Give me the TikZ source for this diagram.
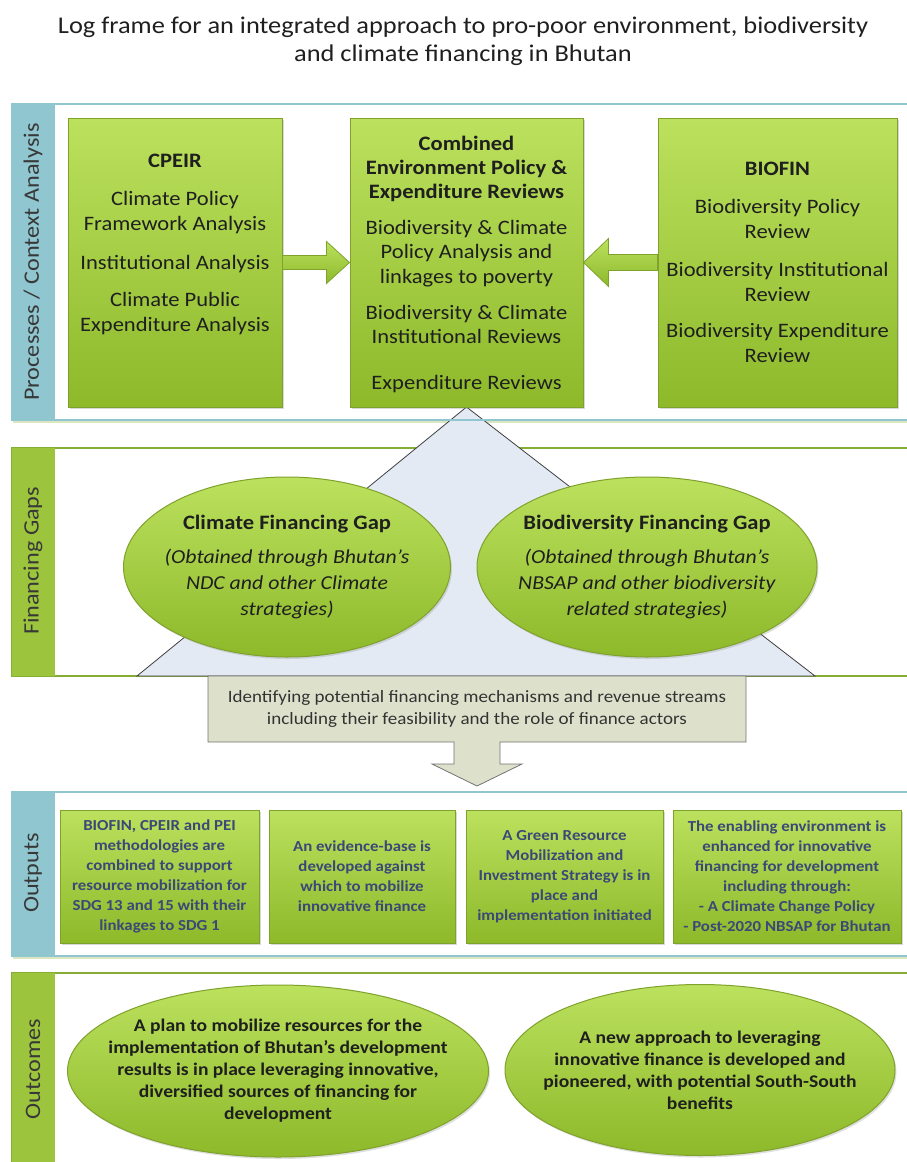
\documentclass[tikz,border=0pt]{standalone}
\usepackage{fontspec}
\setmainfont{Carlito}[FakeStretch=1.1]
\usetikzlibrary{calc,shapes.geometric,shadows}
\definecolor{boxtop}{HTML}{BCE15E}
\definecolor{boxbot}{HTML}{8DB92A}
\definecolor{boxline}{HTML}{7FA22C}
\definecolor{stripteal}{HTML}{90C6CF}
\definecolor{stripgreen}{HTML}{9CC43C}
\definecolor{bandgreen}{HTML}{86AE34}
\definecolor{trifill}{HTML}{E4EAF4}
\definecolor{mechfill}{HTML}{DDE1CB}
\definecolor{outtext}{HTML}{3B4878}
\begin{document}
\begin{tikzpicture}[x=1pt,y=-1pt,
	greenfill/.style={draw=boxline, line width=1pt, top color=boxtop, bottom color=boxbot},
	procbox/.style={greenfill, rectangle, inner sep=0pt, drop shadow={opacity=0.3, shadow xshift=2pt, shadow yshift=-2pt}},
	proctext/.style={align=center, inner sep=0pt, font=\fontsize{20.5}{25}\selectfont, text=black!88},
	outbox/.style={procbox, align=center, inner sep=2pt, font=\bfseries\fontsize{15.3}{20}\selectfont, text=outtext},
	gapell/.style={greenfill, ellipse, inner sep=0pt, drop shadow={opacity=0.25, shadow xshift=1.5pt, shadow yshift=-2pt}},
	gaptext/.style={align=center, inner sep=0pt, font=\fontsize{19.8}{26}\selectfont, text=black!88},
	outctext/.style={align=center, inner sep=0pt, font=\bfseries\fontsize{17.8}{22}\selectfont, text=black!88},
	bandlabel/.style={rotate=90, inner sep=0pt, font=\fontsize{22}{24}\selectfont, text=black!78},
	tealband/.style={draw=stripteal, line width=2pt, fill=white, drop shadow={opacity=0.3, shadow xshift=1pt, shadow yshift=-2.5pt, fill=bandgreen}},
	greenband/.style={draw=bandgreen, line width=1.5pt, fill=white},
	blockarrow/.style={greenfill, line width=0.8pt}
	]
	\useasboundingbox (0,0) rectangle (907,1162);
	\clip (0,0) rectangle (907,1162);

	\node [align=center, font=\fontsize{24}{28}\selectfont, text=black!88] (title) at (463,41)
		{Log frame for an integrated approach to pro-poor environment, biodiversity\\and climate financing in Bhutan};

	% bands with their side labels
	\draw [tealband] (12,104) rectangle (930,420);
	\fill [stripteal] (12,104) rectangle (55,420);
	\node [bandlabel] (lblproc) at (33,262) {Processes / Context Analysis};

	\draw [greenband] (12,448) rectangle (930,676);
	\fill [stripgreen] (12,448) rectangle (55,676);
	\node [bandlabel] (lblgaps) at (33,561) {Financing Gaps};

	\draw [tealband] (12,792) rectangle (930,956);
	\fill [stripteal] (12,792) rectangle (55,956);
	\node [bandlabel] (lblout) at (33,873) {Outputs};

	\draw [greenband] (12,973) rectangle (930,1190);
	\fill [stripgreen] (12,973) rectangle (55,1190);
	\node [bandlabel] (lbloutc) at (33,1069) {Outcomes};

	% triangle behind the gap ellipses
	\coordinate (apex) at (466.5,407);
	\draw [fill=trifill, draw=black!75, line width=0.8pt] (apex) -- (137,676) -- (815,676) -- cycle;
	\draw [draw=stripteal, line width=2pt] (12,104) rectangle (930,420);
	\fill [stripteal] (12,104) rectangle (55,420);
	\node [bandlabel] at (lblproc) {Processes / Context Analysis};

	% processes
	\node [procbox, minimum width=214pt, minimum height=289pt] (cpeir) at (175,262.5) {};
	\node [procbox, minimum width=233pt, minimum height=289pt] (comb) at (466.5,262.5) {};
	\node [procbox, minimum width=239pt, minimum height=289pt] (biofin) at (777.5,262.5) {};

	\node [proctext, anchor=north] (cpeirtxt) at ($(cpeir.north)+(0,36)$)
		{\textbf{CPEIR}\\[13pt]Climate Policy\\Framework Analysis\\[14pt]Institutional Analysis\\[12pt]Climate Public\\Expenditure Analysis};
	\node [proctext, anchor=north, font=\fontsize{20.5}{24.2}\selectfont] (combtxt) at ($(comb.north)+(0,18)$)
		{\textbf{Combined}\\\textbf{Environment Policy \&}\\\textbf{Expenditure Reviews}\\[12pt]Biodiversity \& Climate\\Policy Analysis and\\linkages to poverty\\[12pt]Biodiversity \& Climate\\Institutional Reviews\\[22pt]Expenditure Reviews};
	\node [proctext, anchor=north] (biofintxt) at ($(biofin.north)+(0,44)$)
		{\textbf{BIOFIN}\\[13pt]Biodiversity Policy\\Review\\[13pt]Biodiversity Institutional\\Review\\[11pt]Biodiversity Expenditure\\Review};

	\draw [blockarrow] ($(cpeir.east)+(0,-7)$) -- ($(comb.west)+(-23,-7)$) -- ($(comb.west)+(-23,-21)$)
		-- (comb.west) -- ($(comb.west)+(-23,21)$) -- ($(comb.west)+(-23,7)$) -- ($(cpeir.east)+(0,7)$) -- cycle;
	\draw [blockarrow] ($(biofin.west)+(0,-8)$) -- ($(comb.east)+(25,-8)$) -- ($(comb.east)+(25,-24)$)
		-- (comb.east) -- ($(comb.east)+(25,24)$) -- ($(comb.east)+(25,8)$) -- ($(biofin.west)+(0,8)$) -- cycle;

	% financing gaps
	\node [gapell, minimum width=327pt, minimum height=180pt] (climgap) at (287,567) {};
	\node [gapell, minimum width=340pt, minimum height=180pt] (biogap) at (647,567) {};
	\node [gaptext] (climgaptxt) at (climgap.center)
		{\textbf{\fontsize{20.5}{26}\selectfont Climate Financing Gap}\\[8pt]\textit{(Obtained through Bhutan’s}\\\textit{NDC and other Climate}\\\textit{strategies)}};
	\node [gaptext] (biogaptxt) at (biogap.center)
		{\textbf{\fontsize{20.5}{26}\selectfont Biodiversity Financing Gap}\\[8pt]\textit{(Obtained through Bhutan’s}\\\textit{NBSAP and other biodiversity}\\\textit{related strategies)}};

	% callout arrow down to the outputs
	\coordinate (mc) at (477,709);
	\draw [fill=mechfill, draw=black!55, line width=0.8pt] ($(mc)+(-269,-33)$) -- ($(mc)+(269,-33)$) -- ($(mc)+(269,33)$)
		-- ($(mc)+(23,33)$) -- ($(mc)+(23,55)$) -- ($(mc)+(45,55)$) -- ($(mc)+(0,77)$) -- ($(mc)+(-45,55)$)
		-- ($(mc)+(-23,55)$) -- ($(mc)+(-23,33)$) -- ($(mc)+(-269,33)$) -- cycle;
	\node [align=center, font=\fontsize{17.3}{22}\selectfont, text=black!80] (mech) at (mc)
		{Identifying potential financing mechanisms and revenue streams\\including their feasibility and the role of finance actors};

	% outputs
	\node [outbox, minimum width=199pt, minimum height=133pt] (out1) at (159.5,876.5)
		{BIOFIN, CPEIR and PEI\\methodologies are\\combined to support\\resource mobilization for\\SDG 13 and 15 with their\\linkages to SDG 1};
	\node [outbox, minimum width=186pt, minimum height=133pt] (out2) at (362,876.5)
		{An evidence-base is\\developed against\\which to mobilize\\innovative finance};
	\node [outbox, minimum width=197pt, minimum height=133pt] (out3) at (564.5,876.5)
		{A Green Resource\\Mobilization and\\Investment Strategy is in\\place and\\implementation initiated};
	\node [outbox, minimum width=228pt, minimum height=133pt] (out4) at (787,876.5)
		{The enabling environment is\\enhanced for innovative\\financing for development\\including through:\\- A Climate Change Policy\\- Post-2020 NBSAP for Bhutan};

	% outcomes
	\node [gapell, minimum width=421pt, minimum height=172pt] (plan) at (278,1071) {};
	\node [gapell, minimum width=390pt, minimum height=171pt] (approach) at (700,1070) {};
	\node [outctext] (plantxt) at (plan.center)
		{A plan to mobilize resources for the\\implementation of Bhutan’s development\\results is in place leveraging innovative,\\diversified sources of financing for\\development};
	\node [outctext] (approachtxt) at (approach.center)
		{A new approach to leveraging\\innovative finance is developed and\\pioneered, with potential South-South\\benefits};
\end{tikzpicture}
\end{document}
